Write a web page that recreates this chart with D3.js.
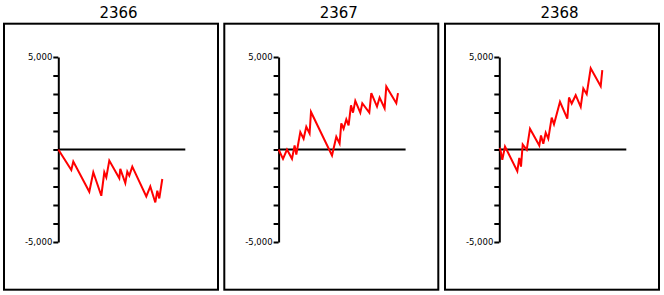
<!DOCTYPE html>
<html>
<head>
<meta charset="utf-8">
<script src="https://cdn.jsdelivr.net/npm/d3@7"></script>
<style>
  body { margin: 0; background: #fff; }
  svg text { font-family: "DejaVu Sans", Verdana, sans-serif; fill: #000; }
</style>
</head>
<body>
<div id="chart"></div>
<script>
// panel titles
let titles = ["2366", "2367", "2368"];

// x = day offset, v = value, one pair per panel
let days1 = [0, 13, 15, 31, 35, 43, 46, 48, 51, 61, 62, 67, 69, 71, 74, 88, 92, 97, 99, 101, 104];
let vals1 = [0, -1105, -652, -2283, -1232, -2500, -1232, -1504, -598, -1558, -1051, -1812, -1196, -1413, -924, -2536, -1993, -2862, -2228, -2645, -1594];

let days2 = [0, 4.4, 8.4, 13.4, 16, 17.7, 21.7, 25, 27.7, 31, 32.4, 53.4, 57.7, 61, 62.7, 65, 67.7, 70, 72.4, 74.4, 76.7, 81.7, 83.7, 90.7, 92.7, 98.4, 101, 106, 107.7, 117.7, 119.4];
let vals2 = [0, -505, 0, -505, 217, -272, 940, 580, 1233, 870, 2029, -326, 690, 326, 1413, 1123, 1630, 1304, 2391, 1993, 2627, 1993, 2500, 1993, 3043, 2319, 2808, 2228, 3406, 2500, 3043];

let days3 = [0.7, 3, 5.7, 18, 20, 21.7, 23.4, 27.4, 30.7, 40, 41.7, 44, 46.4, 49, 52.4, 54.7, 60.7, 68, 69.7, 72.4, 76.4, 81.4, 84, 87.4, 91.4, 101.4, 103];
let vals3 = [92, -560, 163, -1174, -451, -924, 272, -16, 1125, 217, 761, 310, 908, 582, 1723, 1359, 2576, 1668, 2810, 2484, 2935, 2304, 3299, 2989, 4386, 3424, 4293];

let yTicks = [-5000, -4000, -3000, -2000, -1000, 0, 1000, 2000, 3000, 4000, 5000];
let xDomain = [0, 127];

let panels = [
  {title: titles[0], days: days1, vals: vals1},
  {title: titles[1], days: days2, vals: vals2},
  {title: titles[2], days: days3, vals: vals3}
];

let width = 664, height = 295;
let svg = d3.select("#chart").append("svg")
  .attr("width", width)
  .attr("height", height);

let panelLefts = [4, 224.3, 445];
let panelW = 214, panelTop = 23.7, panelH = 266;
let axisOff = 54.3;

let y = d3.scaleLinear().domain([-5000, 5000]).range([242, 57]);

function fmt(d) {
  if (Math.abs(d) !== 5000) return "";
  return (d < 0 ? "-" : "") + d3.format(",")(Math.abs(d));
}

panels.forEach((p, i) => {
  let left = panelLefts[i];
  let g = svg.append("g");

  // panel frame
  g.append("rect")
    .attr("x", left)
    .attr("y", panelTop)
    .attr("width", panelW)
    .attr("height", panelH)
    .attr("fill", "none")
    .attr("stroke", "#000")
    .attr("stroke-width", 2);

  // title
  g.append("text")
    .attr("x", left + 114.5)
    .attr("y", 17.5)
    .attr("text-anchor", "middle")
    .style("font-size", "15px")
    .text(p.title);

  let x = d3.scaleLinear().domain(xDomain).range([left + axisOff, left + axisOff + 127]);

  // y axis
  let yAxis = g.append("g")
    .attr("transform", "translate(" + (left + axisOff) + ",0)")
    .call(d3.axisLeft(y).tickValues(yTicks).tickSize(5).tickSizeOuter(0).tickPadding(1).tickFormat(fmt));
  yAxis.select(".domain").attr("stroke", "#000").attr("stroke-width", 2);
  yAxis.selectAll(".tick line").attr("stroke", "#000").attr("stroke-width", 2);
  yAxis.selectAll(".tick text").style("font-size", "8.5px").attr("font-family", null);

  // zero line
  g.append("line")
    .attr("x1", x(xDomain[0]))
    .attr("x2", x(xDomain[1]))
    .attr("y1", y(0))
    .attr("y2", y(0))
    .attr("stroke", "#000")
    .attr("stroke-width", 2);

  // series
  let pts = p.days.map((d, k) => ({d: d, v: p.vals[k]}));
  let line = d3.line()
    .x(d => x(d.d))
    .y(d => y(d.v));
  g.append("path")
    .datum(pts)
    .attr("d", line)
    .attr("fill", "none")
    .attr("stroke", "#ff0000")
    .attr("stroke-width", 2)
    .attr("stroke-linejoin", "miter");
});
</script>
</body>
</html>
